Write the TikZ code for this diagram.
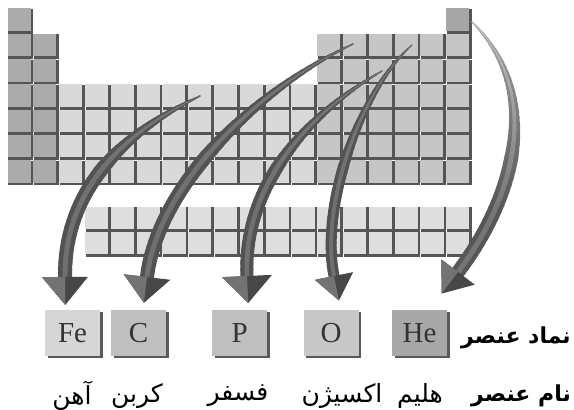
\documentclass[tikz,border=0pt]{standalone}
\usepackage{fontspec}
\setmainfont{Liberation Serif}
\newfontfamily\arabicfont[Script=Arabic]{DejaVu Sans}
\TeXXeTstate=1
\usetikzlibrary{calc,shadows}
\definecolor{sblock}{HTML}{ABABAB}
\definecolor{pblock}{HTML}{C6C6C6}
\definecolor{dblock}{HTML}{D9D9D9}
\definecolor{fblock}{HTML}{DEDEDE}
\definecolor{heblock}{HTML}{A6A6A6}
\definecolor{cellshade}{HTML}{555555}
\definecolor{boxtext}{HTML}{333333}

\newcommand\ptCell[4]{%
  \fill[cellshade] ({#1+0.6},{#2+0.6}) rectangle ({#1+25.8},{#2+#4});
  \fill[#3] (#1,#2) rectangle ({#1+23.1},{#2+#4-2.7});
}

% #1 tail, #2 ctrl1, #3 ctrl2, #4 head base, #5 shaft width, #6 head half width,
% #7 head length, #8 tail black pct, #9 body black pct
\newcommand\taperArrow[9]{%
  \begin{scope}
  \pgfsetroundcap
  \foreach \i in {0,...,39}{%
    \pgfmathsetmacro\ta{\i/40}%
    \pgfmathsetmacro\tb{(\i+1)/40}%
    \pgfmathsetmacro\ww{#5*(0.12+0.88*min(1,\ta/0.55))}%
    \pgfmathsetmacro\cc{#8+(#9-#8)*min(1,\ta/0.75)}%
    \colorlet{segc}{black!\cc}%
    \pgfsetstrokecolor{segc}%
    \pgfsetlinewidth{\ww pt}%
    \pgfpathcurvebetweentime{\ta}{\tb}{\pgfpointanchor{#1}{center}}{\pgfpointanchor{#2}{center}}{\pgfpointanchor{#3}{center}}{\pgfpointanchor{#4}{center}}%
    \pgfusepath{stroke}%
  }%
  \foreach \i in {0,...,39}{%
    \pgfmathsetmacro\ta{\i/40}%
    \pgfmathsetmacro\tb{(\i+1)/40}%
    \pgfmathsetmacro\ww{0.35*#5*(0.12+0.88*min(1,\ta/0.55))}%
    \pgfmathsetmacro\cc{max(0,#8-12+(#9-#8)*min(1,\ta/0.75))}%
    \colorlet{segc}{black!\cc}%
    \pgfsetstrokecolor{segc}%
    \pgfsetlinewidth{\ww pt}%
    \pgfpathcurvebetweentime{\ta}{\tb}{\pgfpointanchor{#1}{center}}{\pgfpointanchor{#2}{center}}{\pgfpointanchor{#3}{center}}{\pgfpointanchor{#4}{center}}%
    \pgfusepath{stroke}%
  }%
  \end{scope}
  \fill[black!72] ($(#4)!#6pt!90:(#3)$) -- ($(#4)!-#7pt!(#3)$) -- ($(#4)!#6pt!-90:(#3)$) -- cycle;
  \fill[black!55] ($(#4)!#6pt!90:(#3)$) -- ($(#4)!-#7pt!(#3)$) -- (#4) -- cycle;
}

\begin{document}
\begin{tikzpicture}[x=1pt,y=-1pt,
  elbox/.style={draw=none, minimum width=55pt, minimum height=46pt, inner sep=0pt,
     font=\fontsize{29}{29}\selectfont, text=boxtext,
     general shadow={shadow xshift=2.5pt, shadow yshift=-1.5pt, fill=black!65}},
  labelfont/.style={font=\arabicfont\bfseries\fontsize{22}{22}\selectfont, inner sep=0pt},
  namefont/.style={font=\arabicfont\fontsize{25}{25}\selectfont, inner sep=0pt}]
\useasboundingbox (0,0) rectangle (574,410);
\fill[white] (0,0) rectangle (574,410);

% main table
\foreach \r in {1,...,7}{\pgfmathsetmacro\yy{8.3+(\r-1)*25.3}\ptCell{7.5}{\yy}{sblock}{25.3}}
\foreach \r in {2,...,7}{\pgfmathsetmacro\yy{8.3+(\r-1)*25.3}\ptCell{33.3}{\yy}{sblock}{25.3}}
\foreach \c in {3,...,12}{\foreach \r in {4,...,7}{%
  \pgfmathsetmacro\xx{7.5+(\c-1)*25.8}\pgfmathsetmacro\yy{8.3+(\r-1)*25.3}%
  \ptCell{\xx}{\yy}{dblock}{25.3}}}
\foreach \c in {13,...,18}{\foreach \r in {2,...,7}{%
  \pgfmathsetmacro\xx{7.5+(\c-1)*25.8}\pgfmathsetmacro\yy{8.3+(\r-1)*25.3}%
  \ptCell{\xx}{\yy}{pblock}{25.3}}}
\ptCell{446.1}{8.3}{heblock}{25.3}
% lanthanides / actinides
\foreach \c in {0,...,14}{\foreach \r in {0,1}{%
  \pgfmathsetmacro\xx{85+\c*25.8}\pgfmathsetmacro\yy{206.7+\r*25}%
  \ptCell{\xx}{\yy}{fblock}{25}}}

% element boxes
\node[elbox, fill=black!16] (fe) at (72.5,333.4) {Fe};
\node[elbox, fill=black!25] (c) at (138.5,333.4) {C};
\node[elbox, fill=black!25] (p) at (239.6,333.4) {P};
\node[elbox, fill=black!22] (o) at (331,333.4) {O};
\node[elbox, fill=black!34] (he) at (419.5,333.4) {He};

% arrow geometry
\coordinate (feS) at (200,96);  \coordinate (feA) at (145,122);
\coordinate (feB) at (64,175);  \coordinate (feE) at (65,277);
\coordinate (cS) at (353,44);   \coordinate (cA) at (258,88);
\coordinate (cB) at (158,185);  \coordinate (cE) at (147,277);
\coordinate (pS) at (382,71);   \coordinate (pA) at (305,115);
\coordinate (pB) at (243,188);  \coordinate (pE) at (247,276);
\coordinate (oS) at (412,45);   \coordinate (oA) at (359.5,91);
\coordinate (oB) at (320,207);  \coordinate (oE) at (334,276);
\coordinate (heS) at (472,22);  \coordinate (heA) at (542,91);
\coordinate (heB) at (517,194); \coordinate (heE) at (458,272);

\taperArrow{heS}{heA}{heB}{heE}{14}{21}{27}{35}{66}
\taperArrow{oS}{oA}{oB}{oE}{11}{19.5}{25}{66}{68}
\taperArrow{pS}{pA}{pB}{pE}{13}{25}{27}{66}{68}
\taperArrow{cS}{cA}{cB}{cE}{14}{23.5}{26}{66}{68}
\taperArrow{feS}{feA}{feB}{feE}{14}{23}{28}{66}{68}

% labels
\node[labelfont] (lsym) at (516,338) {\beginR نماد عنصر\endR};
\node[labelfont] (lname) at (521,396) {\beginR نام عنصر\endR};
\node[namefont] (nfe) at (72,396) {\beginR آهن\endR};
\node[namefont] (nc) at (137,396) {\beginR کربن\endR};
\node[namefont] (np) at (238,396) {\beginR فسفر\endR};
\node[namefont] (no) at (342,396) {\beginR اکسیژن\endR};
\node[namefont] (nhe) at (420,396) {\beginR هلیم\endR};
\end{tikzpicture}
\end{document}
